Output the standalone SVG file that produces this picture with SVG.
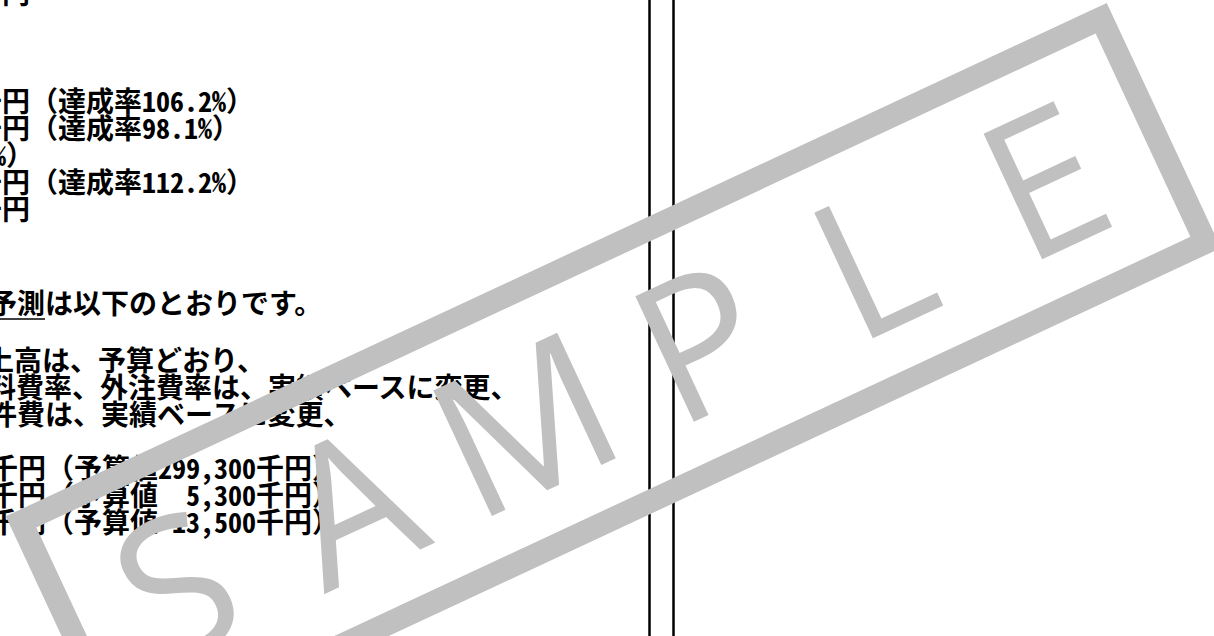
<svg xmlns="http://www.w3.org/2000/svg" width="1214" height="636" viewBox="0 0 1214 636">
  <style>
    .t { font-family: "Noto Sans CJK JP", "Noto Sans", sans-serif; font-size: 28px; font-weight: 700; fill: #000; }
    .h { font-feature-settings: "hwid" 1; }
    .rule { stroke: #000; stroke-width: 2.5; fill: none; }
    .wm-box { fill: none; stroke: #c0c0c0; stroke-width: 23; }
    .wm-text { font-family: "Open Sans", "Noto Sans", sans-serif; font-size: 194px; font-weight: 400; fill: #c0c0c0; text-anchor: middle; }
  </style>
  <rect x="0" y="0" width="1214" height="636" fill="#fff"/>

  <g id="doc-text">
    <text class="t" y="4"><tspan x="-26">千円</tspan></text>
    <text class="t" y="112"><tspan x="-26">千円（達成率</tspan><tspan class="h" x="142">106.2%</tspan><tspan x="226">）</tspan></text>
    <text class="t" y="139"><tspan x="-26">千円（達成率</tspan><tspan class="h" x="142">98.1%</tspan><tspan x="212">）</tspan></text>
    <text class="t" y="166"><tspan class="h" x="-8">%</tspan><tspan x="6">）</tspan></text>
    <text class="t" y="193"><tspan x="-26">千円（達成率</tspan><tspan class="h" x="142">112.2%</tspan><tspan x="226">）</tspan></text>
    <text class="t" y="220"><tspan x="-26">千円</tspan></text>

    <text class="t" y="314"><tspan x="-11">予測は以下のとおりです。</tspan></text>
    <line x1="0" y1="319" x2="45" y2="319" stroke="#000" stroke-width="1.6"/>

    <text class="t" y="371"><tspan x="-14">上高は、予算どおり、</tspan></text>
    <text class="t" y="398"><tspan x="-12">料費率、外注費率は、実績ベースに変更、</tspan></text>
    <text class="t" y="425"><tspan x="-11">件費は、実績ベースに変更、</tspan></text>

    <text class="t" y="479"><tspan x="-10">千円（予算値</tspan><tspan class="h" x="158">299,300</tspan><tspan x="256">千円）</tspan></text>
    <text class="t" y="506"><tspan x="-10">千円（予算値</tspan><tspan class="h" x="186">5,300</tspan><tspan x="256">千円）</tspan></text>
    <text class="t" y="533"><tspan x="-10">千円（予算値</tspan><tspan class="h" x="172">13,500</tspan><tspan x="256">千円）</tspan></text>
  </g>

  <g id="rules">
    <line class="rule" x1="649.5" y1="0" x2="649.5" y2="636"/>
    <line class="rule" x1="673.5" y1="0" x2="673.5" y2="636"/>
  </g>

  <g id="watermark" transform="rotate(-25)">
    <rect class="wm-box" x="-201.5" y="481.9" width="1191.8" height="247.3"/>
    <text class="wm-text" y="675.5" x="-88 104 296 490 680 870">SAMPLE</text>
  </g>
</svg>
